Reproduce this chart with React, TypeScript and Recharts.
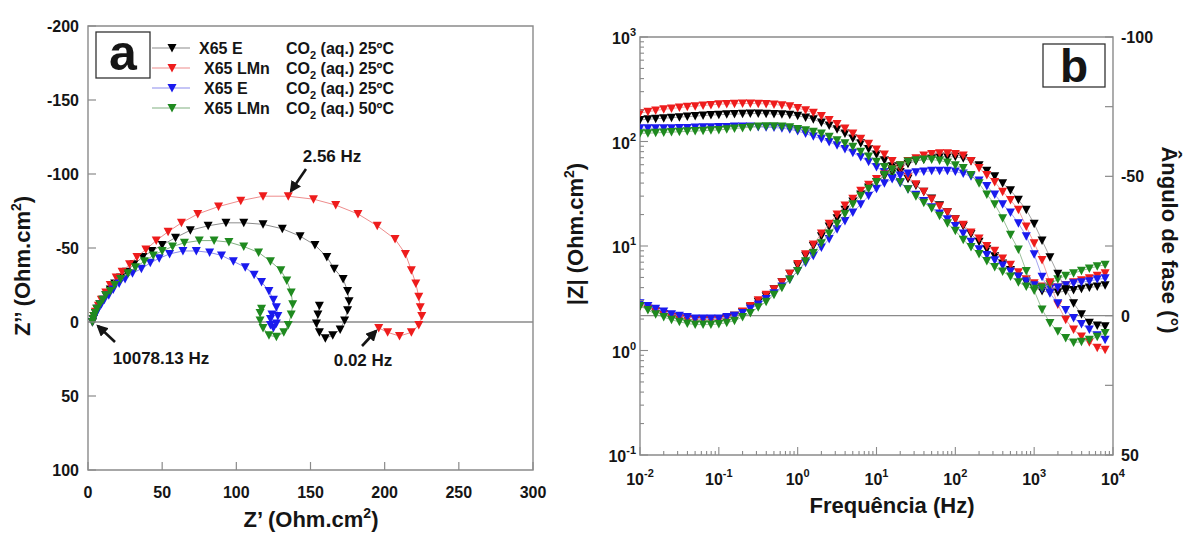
import React from "react";
import { ScatterChart, Scatter, XAxis, YAxis, ReferenceLine, ReferenceArea } from "recharts";

const FONT = "'Liberation Sans', Arial, Helvetica, sans-serif";
const INK = "#151515";
const FRAME = "#8a8a8a";

// series order: black, red, blue, green
const SERIES_NAMES = ["X65 E", "X65 LMn", "X65 E", "X65 LMn"];
const SERIES_TEMPS = ["25ºC", "25ºC", "25ºC", "50ºC"];
const SERIES_COLORS = ["#000000", "#ee1c1c", "#1a1aee", "#1f8a1f"];
const LINE_COLORS = ["#8c8c8c", "#ee8c8c", "#8c8cee", "#80b080"];

// Nyquist: Z' and Z'' (Ohm.cm2), high -> low frequency
const nyqReBlack = [3, 3.5, 4, 5, 6, 8, 10, 12, 15, 18, 22, 26, 31, 37, 43, 50, 59, 69, 81, 93, 105, 118, 131, 143, 153, 161, 166, 172, 175, 176, 175, 173, 170, 165, 160, 156, 154, 155, 156];
const nyqImBlack = [0, -2, -4, -6, -9, -12, -15, -18, -22, -26, -30, -34, -39, -44, -48, -52, -57, -62, -65, -67, -67, -66, -63, -58, -52, -44, -36, -29, -21, -14, -8, -1, 5, 9, 11, 7, 1, -5, -11];
const nyqReRed = [3, 3.5, 4, 5, 7, 9, 12, 15, 19, 23, 28, 33, 39, 46, 54, 63, 74, 88, 103, 118, 135, 152, 167, 182, 195, 207, 214, 218, 221, 223, 224, 225, 223, 218, 210, 202, 196];
const nyqImRed = [0, -2, -4, -7, -11, -15, -20, -25, -30, -34, -39, -44, -49, -55, -61, -67, -73, -78, -82, -85, -85, -83, -79, -73, -65, -56, -46, -35, -26, -17, -10, -4, 2, 7, 9.5, 7, 4];
const nyqReBlue = [3, 3.5, 4.5, 5.5, 7, 9, 11, 14, 17, 21, 25, 30, 36, 42, 48, 55, 64, 73, 82, 90, 98, 106, 112, 117, 122, 125, 127, 128, 127, 125, 123, 123, 124];
const nyqImBlue = [0, -2, -4, -6, -9, -12, -15, -18, -22, -26, -29, -33, -36, -40, -43, -46, -48, -48, -47, -45, -41, -37, -32, -27, -21, -15, -10, -4, 1, 4, 2, -2, -5];
const nyqReGreen = [3, 3.5, 4, 5, 6, 8, 10, 12, 15, 18, 22, 27, 32, 38, 44, 50, 57, 65, 75, 85, 95, 105, 115, 123, 130, 134, 137, 138, 137, 135, 132, 127, 122, 118, 116, 116, 117];
const nyqImGreen = [0, -2, -4, -6, -9, -12, -15, -18, -21, -25, -29, -33, -37, -41, -45, -48, -51, -53.5, -55, -55, -54, -51, -47, -41, -35, -28, -20, -12, -5, 2, 7, 10, 9, 4, -1, -6, -9];

// Bode
const FREQ_HZ = [
  0.01, 0.0126, 0.0158, 0.02, 0.0251, 0.0316, 0.0398, 0.0501, 0.0631, 0.0794,
  0.1, 0.126, 0.158, 0.2, 0.251, 0.316, 0.398, 0.501, 0.631, 0.794,
  1, 1.26, 1.58, 2, 2.51, 3.16, 3.98, 5.01, 6.31, 7.94,
  10, 12.6, 15.8, 20, 25.1, 31.6, 39.8, 50.1, 63.1, 79.4,
  100, 126, 158, 200, 251, 316, 398, 501, 631, 794,
  1000, 1259, 1585, 1995, 2512, 3162, 3981, 5012, 6310, 7943,
];
const MOD_BLACK = [
  161, 163, 165, 167, 169, 171, 173, 175, 177, 179,
  180, 182, 183, 184, 185, 185, 184, 183, 182, 180,
  176, 170, 163, 152, 142, 131, 119, 107, 96, 85,
  75, 66, 58, 51, 44, 38, 33, 28.5, 24.5, 21,
  18, 15.5, 13, 11, 9.3, 8, 6.8, 5.9, 5.1, 4.5,
  4.0, 3.7, 3.6, 3.6, 3.7, 3.8, 3.9, 4.0, 4.1, 4.2,
];
const MOD_RED = [
  187, 193, 198, 203, 207, 211, 215, 218, 221, 224,
  227, 229, 230, 231, 231, 230, 229, 226, 222, 217,
  209, 199, 188, 175, 161, 147, 133, 119, 106, 95,
  84, 75, 65, 55, 46, 39, 33, 28, 24, 21,
  18, 16, 13.5, 11.8, 10, 9, 7.6, 6.6, 5.6, 4.8,
  4.4, 4.1, 4.0, 4.0, 4.2, 4.5, 4.7, 4.9, 5.2, 5.5,
];
const MOD_BLUE = [
  134, 134, 134, 134, 134, 135, 135, 136, 137, 137,
  138, 138, 139, 139, 139, 138, 137, 136, 134, 131,
  126, 119, 112, 106, 99, 92, 85, 78, 71, 64,
  57, 51, 45, 40, 35, 31, 27, 23.5, 20.5, 18,
  15.5, 13.2, 11, 9.3, 8.2, 7.3, 6.5, 5.7, 5.1, 4.6,
  4.2, 3.9, 3.9, 4.0, 4.2, 4.4, 4.5, 4.6, 4.8, 4.9,
];
const MOD_GREEN = [
  120, 120, 121, 122, 123, 124, 125, 126, 127, 128,
  129, 131, 133, 135, 137, 139, 140, 140, 139, 137,
  132, 128, 124, 119, 111, 103, 96, 89, 80, 72,
  64, 57, 49, 41, 35, 30, 26, 23, 19.5, 16.5,
  14, 11.5, 9.8, 8.4, 7.2, 6.3, 5.7, 5.1, 4.5, 4.1,
  3.9, 4.0, 4.3, 4.8, 5.2, 5.5, 5.8, 6.1, 6.4, 6.6,
];
const PH_BLACK = [
  -3.5, -2.5, -1.5, -0.5, 0.5, 1, 1.3, 1.5, 1.5, 1.5,
  1.3, 0.8, 0, -1.3, -3, -5, -7, -9.5, -12, -15,
  -18, -21.5, -25, -28.5, -32, -35, -38, -41, -43.5, -46,
  -48, -50, -52, -53.5, -54.5, -55.5, -56, -56.5, -57, -57,
  -57, -56.5, -55.5, -54, -52, -50, -47.5, -45, -41.6, -38,
  -33, -27, -21, -15, -9.5, -4.5, -0.5, 2.5, 3.5, 3.8,
];
const PH_RED = [
  -3.5, -2.5, -1.5, -0.5, 0.5, 1, 1.3, 1.5, 1.5, 1.5,
  1.5, 1, 0, -1.5, -3.5, -5.5, -7.5, -9.5, -12, -15,
  -18.5, -22, -25.5, -29.5, -33, -36.3, -39.5, -42, -44.8, -47,
  -49, -50.7, -52.5, -54, -55.5, -56.5, -57.5, -58, -58.3, -58.3,
  -58, -57.5, -55.5, -53, -50.5, -48, -44.5, -41.5, -38, -32,
  -26, -20, -12, -4, 1.5, 5, 7.5, 9.5, 11.5, 12.2,
];
const PH_BLUE = [
  -4.5, -3.5, -2.5, -1.5, -0.5, 0, 0.5, 1, 1, 1,
  1, 0.5, 0, -1, -2.5, -4, -6, -8, -10.5, -13,
  -16, -19, -21.5, -24.5, -27.5, -31, -34, -37, -40, -43,
  -45.5, -47.5, -49, -50.3, -51, -51.5, -51.7, -52, -52, -52,
  -51.7, -51, -50, -48.5, -46.5, -43.5, -40, -37, -33.2, -28.5,
  -22, -14, -8, -4.5, -2, 0.8, 3, 5, 7, 8.6,
];
const PH_GREEN = [
  -3.5, -2, -0.5, 0.5, 1.5, 2.2, 2.8, 3.2, 3.2, 3.2,
  3, 2.5, 1.8, 0.5, -1, -3, -5, -7.5, -10, -13,
  -16, -19.5, -22.5, -26, -29.5, -33, -36.5, -40, -43, -45.5,
  -48, -50.5, -52.5, -54, -55.3, -55.8, -56, -56, -55.7, -55,
  -54, -53, -50.5, -47.5, -43.5, -40, -35, -29, -23.7, -16,
  -9, -2.2, 2.6, 5.6, 8, 9.6, 9.4, 8.6, 7.6, 6.2,
];

// ticks
const A_X_TICKS = [0, 50, 100, 150, 200, 250, 300];
const A_Y_TICKS = [-200, -150, -100, -50, 0, 50, 100];
const FREQ_DECADES = [0.01, 0.1, 1, 10, 100, 1000];
const MOD_DECADES = [0.1, 1, 10, 100];
const MINOR_STEPS = [1, 2, 3, 4, 5, 6, 7, 8, 9];
const PH_TICKS = [-100, -75, -50, -25, 0, 25, 50];
const PH_LABELS = [-100, -50, 0, 50];

const logTicks = (decades: number[], last: number) =>
  [...decades.flatMap((d) => MINOR_STEPS.map((m) => +(d * m).toPrecision(3))), last];
const FREQ_TICKS = logTicks(FREQ_DECADES, 10000);
const MOD_TICKS = logTicks(MOD_DECADES, 1000);

const nyqData = [
  [nyqReBlack, nyqImBlack],
  [nyqReRed, nyqImRed],
  [nyqReBlue, nyqImBlue],
  [nyqReGreen, nyqImGreen],
].map(([re, im]) => re.map((x, i) => ({ x, y: im[i] })));
const modData = [MOD_BLACK, MOD_RED, MOD_BLUE, MOD_GREEN].map((a) => FREQ_HZ.map((f, i) => ({ f, v: a[i] })));
const phData = [PH_BLACK, PH_RED, PH_BLUE, PH_GREEN].map((a) => FREQ_HZ.map((f, i) => ({ f, v: a[i] })));

const downTri = (color: string) => (p: any) => {
  const { cx, cy } = p;
  if (cx == null || cy == null) return <g />;
  return <polygon points={`${cx - 4.5},${cy - 4} ${cx + 4.5},${cy - 4} ${cx},${cy + 4.5}`} fill={color} />;
};

const isDecade = (v: number) => Math.abs(Math.log10(v) - Math.round(Math.log10(v))) < 1e-6;

const txt = { fontFamily: FONT, fontWeight: 700, fill: INK } as const;

const TickAX = (p: any) => (
  <g>
    <line x1={p.x} y1={p.y} x2={p.x} y2={p.y - 8} stroke={FRAME} strokeWidth={1.2} />
    <text x={p.x} y={p.y + 28} textAnchor="middle" fontSize={16} {...txt}>{p.payload.value}</text>
  </g>
);
const TickAY = (p: any) => (
  <g>
    <line x1={p.x} y1={p.y} x2={p.x + 8} y2={p.y} stroke={FRAME} strokeWidth={1.2} />
    <text x={p.x - 9} y={p.y + 6} textAnchor="end" fontSize={16} {...txt}>{p.payload.value}</text>
  </g>
);
const Pow10 = ({ v }: { v: number }) => (
  <>
    <tspan>10</tspan>
    <tspan dy={-8} fontSize={11}>{Math.round(Math.log10(v))}</tspan>
  </>
);
const TickBX = (p: any) => {
  const major = isDecade(p.payload.value);
  return (
    <g>
      <line x1={p.x} y1={p.y} x2={p.x} y2={p.y - (major ? 8 : 4)} stroke={FRAME} strokeWidth={1.1} />
      {major && (
        <text x={p.x} y={p.y + 30} textAnchor="middle" fontSize={16} {...txt}><Pow10 v={p.payload.value} /></text>
      )}
    </g>
  );
};
const TickBY = (p: any) => {
  const major = isDecade(p.payload.value);
  return (
    <g>
      <line x1={p.x} y1={p.y} x2={p.x + (major ? 8 : 4)} y2={p.y} stroke={FRAME} strokeWidth={1.1} />
      {major && (
        <text x={p.x - 4} y={p.y + 7} textAnchor="end" fontSize={16} {...txt}><Pow10 v={p.payload.value} /></text>
      )}
    </g>
  );
};
const TickBR = (p: any) => (
  <g>
    <line x1={p.x} y1={p.y} x2={p.x - 8} y2={p.y} stroke={FRAME} strokeWidth={1.2} />
    {PH_LABELS.includes(p.payload.value) && (
      <text x={p.x + 8} y={p.y + 6} textAnchor="start" fontSize={16} {...txt}>{p.payload.value}</text>
    )}
  </g>
);

const Overlay = () => (
  <svg width={1187} height={534} style={{ position: "absolute", left: 0, top: 0, pointerEvents: "none" }}>
    <defs>
      <marker id="ah" viewBox="0 0 10 10" refX="8" refY="5" markerWidth="4.5" markerHeight="4.5" orient="auto">
        <path d="M0,0 L10,5 L0,10 z" fill={INK} />
      </marker>
    </defs>
    {/* panel a */}
    <text transform="translate(30,266) rotate(-90)" textAnchor="middle" fontSize={22} {...txt}>
      Z’’ (Ohm.cm<tspan dy={-9} fontSize={14}>2</tspan><tspan dy={9}>)</tspan>
    </text>
    <text x={311} y={527} textAnchor="middle" fontSize={22} {...txt}>
      Z’ (Ohm.cm<tspan dy={-9} fontSize={14}>2</tspan><tspan dy={9}>)</tspan>
    </text>
    <rect x={96} y={32} width={54} height={46} fill="#fff" stroke="#333" strokeWidth={1.3} />
    <text x={123} y={70} textAnchor="middle" fontSize={50} {...txt}>a</text>
    {SERIES_NAMES.map((n, i) => (
      <g key={i}>
        <line x1={152} x2={190} y1={48 + i * 20} y2={48 + i * 20} stroke={LINE_COLORS[i]} strokeWidth={1.2} />
        {downTri(SERIES_COLORS[i])({ cx: 172, cy: 48 + i * 20 })}
        <text x={i === 0 ? 199 : 204} y={54 + i * 20} fontSize={16} {...txt}>{n}</text>
        <text x={286} y={54 + i * 20} fontSize={16} {...txt}>
          CO<tspan dy={5} fontSize={11}>2</tspan><tspan dy={-5}> (aq.) {SERIES_TEMPS[i]}</tspan>
        </text>
      </g>
    ))}
    <text x={332} y={162} textAnchor="middle" fontSize={17} {...txt}>2.56 Hz</text>
    <line x1={306} y1={169} x2={291} y2={191} stroke={INK} strokeWidth={2.6} markerEnd="url(#ah)" />
    <text x={161} y={364} textAnchor="middle" fontSize={17} {...txt}>10078.13 Hz</text>
    <line x1={115} y1={342} x2={98} y2={326} stroke={INK} strokeWidth={2.6} markerEnd="url(#ah)" />
    <text x={363} y={366} textAnchor="middle" fontSize={17} {...txt}>0.02 Hz</text>
    <line x1={362} y1={346} x2={376} y2={331} stroke={INK} strokeWidth={2.6} markerEnd="url(#ah)" />
    {/* panel b */}
    <text transform="translate(583,234) rotate(-90)" textAnchor="middle" fontSize={22} {...txt}>
      |Z| (Ohm.cm<tspan dy={-9} fontSize={14}>2</tspan><tspan dy={9}>)</tspan>
    </text>
    <text transform="translate(1162,240) rotate(90)" textAnchor="middle" fontSize={22} {...txt}>Ângulo de fase (°)</text>
    <text x={892} y={513} textAnchor="middle" fontSize={22} {...txt}>Frequência (Hz)</text>
    <rect x={1043} y={44} width={62} height={43} fill="#fff" stroke="#333" strokeWidth={1.3} />
    <text x={1074} y={82} textAnchor="middle" fontSize={46} {...txt}>b</text>
  </svg>
);

export default function App() {
  return (
    <div style={{ position: "fixed", left: 0, top: 0, width: 1187, height: 534, background: "#fff", overflow: "hidden" }}>
      <div style={{ position: "absolute", left: 0, top: 0 }}>
        <ScatterChart width={560} height={534} margin={{ top: 26, right: 27, bottom: 0, left: 0 }}>
          <XAxis type="number" dataKey="x" domain={[0, 300]} ticks={A_X_TICKS} interval={0} height={64}
            tickSize={0} tickMargin={0} axisLine={false} tickLine={false} tick={<TickAX />} />
          <YAxis type="number" dataKey="y" domain={[-200, 100]} reversed ticks={A_Y_TICKS} interval={0} width={88}
            tickSize={0} tickMargin={0} axisLine={false} tickLine={false} tick={<TickAY />} />
          <ReferenceArea x1={0} x2={300} y1={-200} y2={100} fill="none" fillOpacity={0} stroke={FRAME} strokeWidth={1.4} />
          <ReferenceLine y={0} stroke={FRAME} strokeWidth={1.3} />
          {nyqData.map((d, i) => (
            <Scatter key={i} data={d} line={{ stroke: LINE_COLORS[i], strokeWidth: 1 }} lineType="joint"
              shape={downTri(SERIES_COLORS[i])} isAnimationActive={false} />
          ))}
        </ScatterChart>
      </div>
      <div style={{ position: "absolute", left: 560, top: 0 }}>
        <ScatterChart width={627} height={534} margin={{ top: 37, right: 0, bottom: 0, left: 0 }}>
          <XAxis type="number" dataKey="f" scale="log" domain={[0.01, 10000]} ticks={FREQ_TICKS} interval={0} height={79}
            tickSize={0} tickMargin={0} axisLine={false} tickLine={false} tick={<TickBX />} allowDataOverflow />
          <YAxis yAxisId="mod" type="number" dataKey="v" scale="log" domain={[0.1, 1000]} ticks={MOD_TICKS} interval={0} width={80}
            tickSize={0} tickMargin={0} axisLine={false} tickLine={false} tick={<TickBY />} allowDataOverflow />
          <YAxis yAxisId="ph" orientation="right" type="number" dataKey="v" domain={[-100, 50]} reversed ticks={PH_TICKS} interval={0} width={74}
            tickSize={0} tickMargin={0} axisLine={false} tickLine={false} tick={<TickBR />} />
          <ReferenceArea yAxisId="ph" x1={0.01} x2={10000} y1={-100} y2={50} fill="none" fillOpacity={0} stroke={FRAME} strokeWidth={1.4} />
          <ReferenceLine yAxisId="ph" y={0} stroke={FRAME} strokeWidth={1.3} />
          {modData.map((d, i) => (
            <Scatter key={"m" + i} yAxisId="mod" data={d} line={{ stroke: LINE_COLORS[i], strokeWidth: 0.8 }} lineType="joint"
              shape={downTri(SERIES_COLORS[i])} isAnimationActive={false} />
          ))}
          {phData.map((d, i) => (
            <Scatter key={"p" + i} yAxisId="ph" data={d} line={{ stroke: LINE_COLORS[i], strokeWidth: 0.8 }} lineType="joint"
              shape={downTri(SERIES_COLORS[i])} isAnimationActive={false} />
          ))}
        </ScatterChart>
      </div>
      <Overlay />
    </div>
  );
}
